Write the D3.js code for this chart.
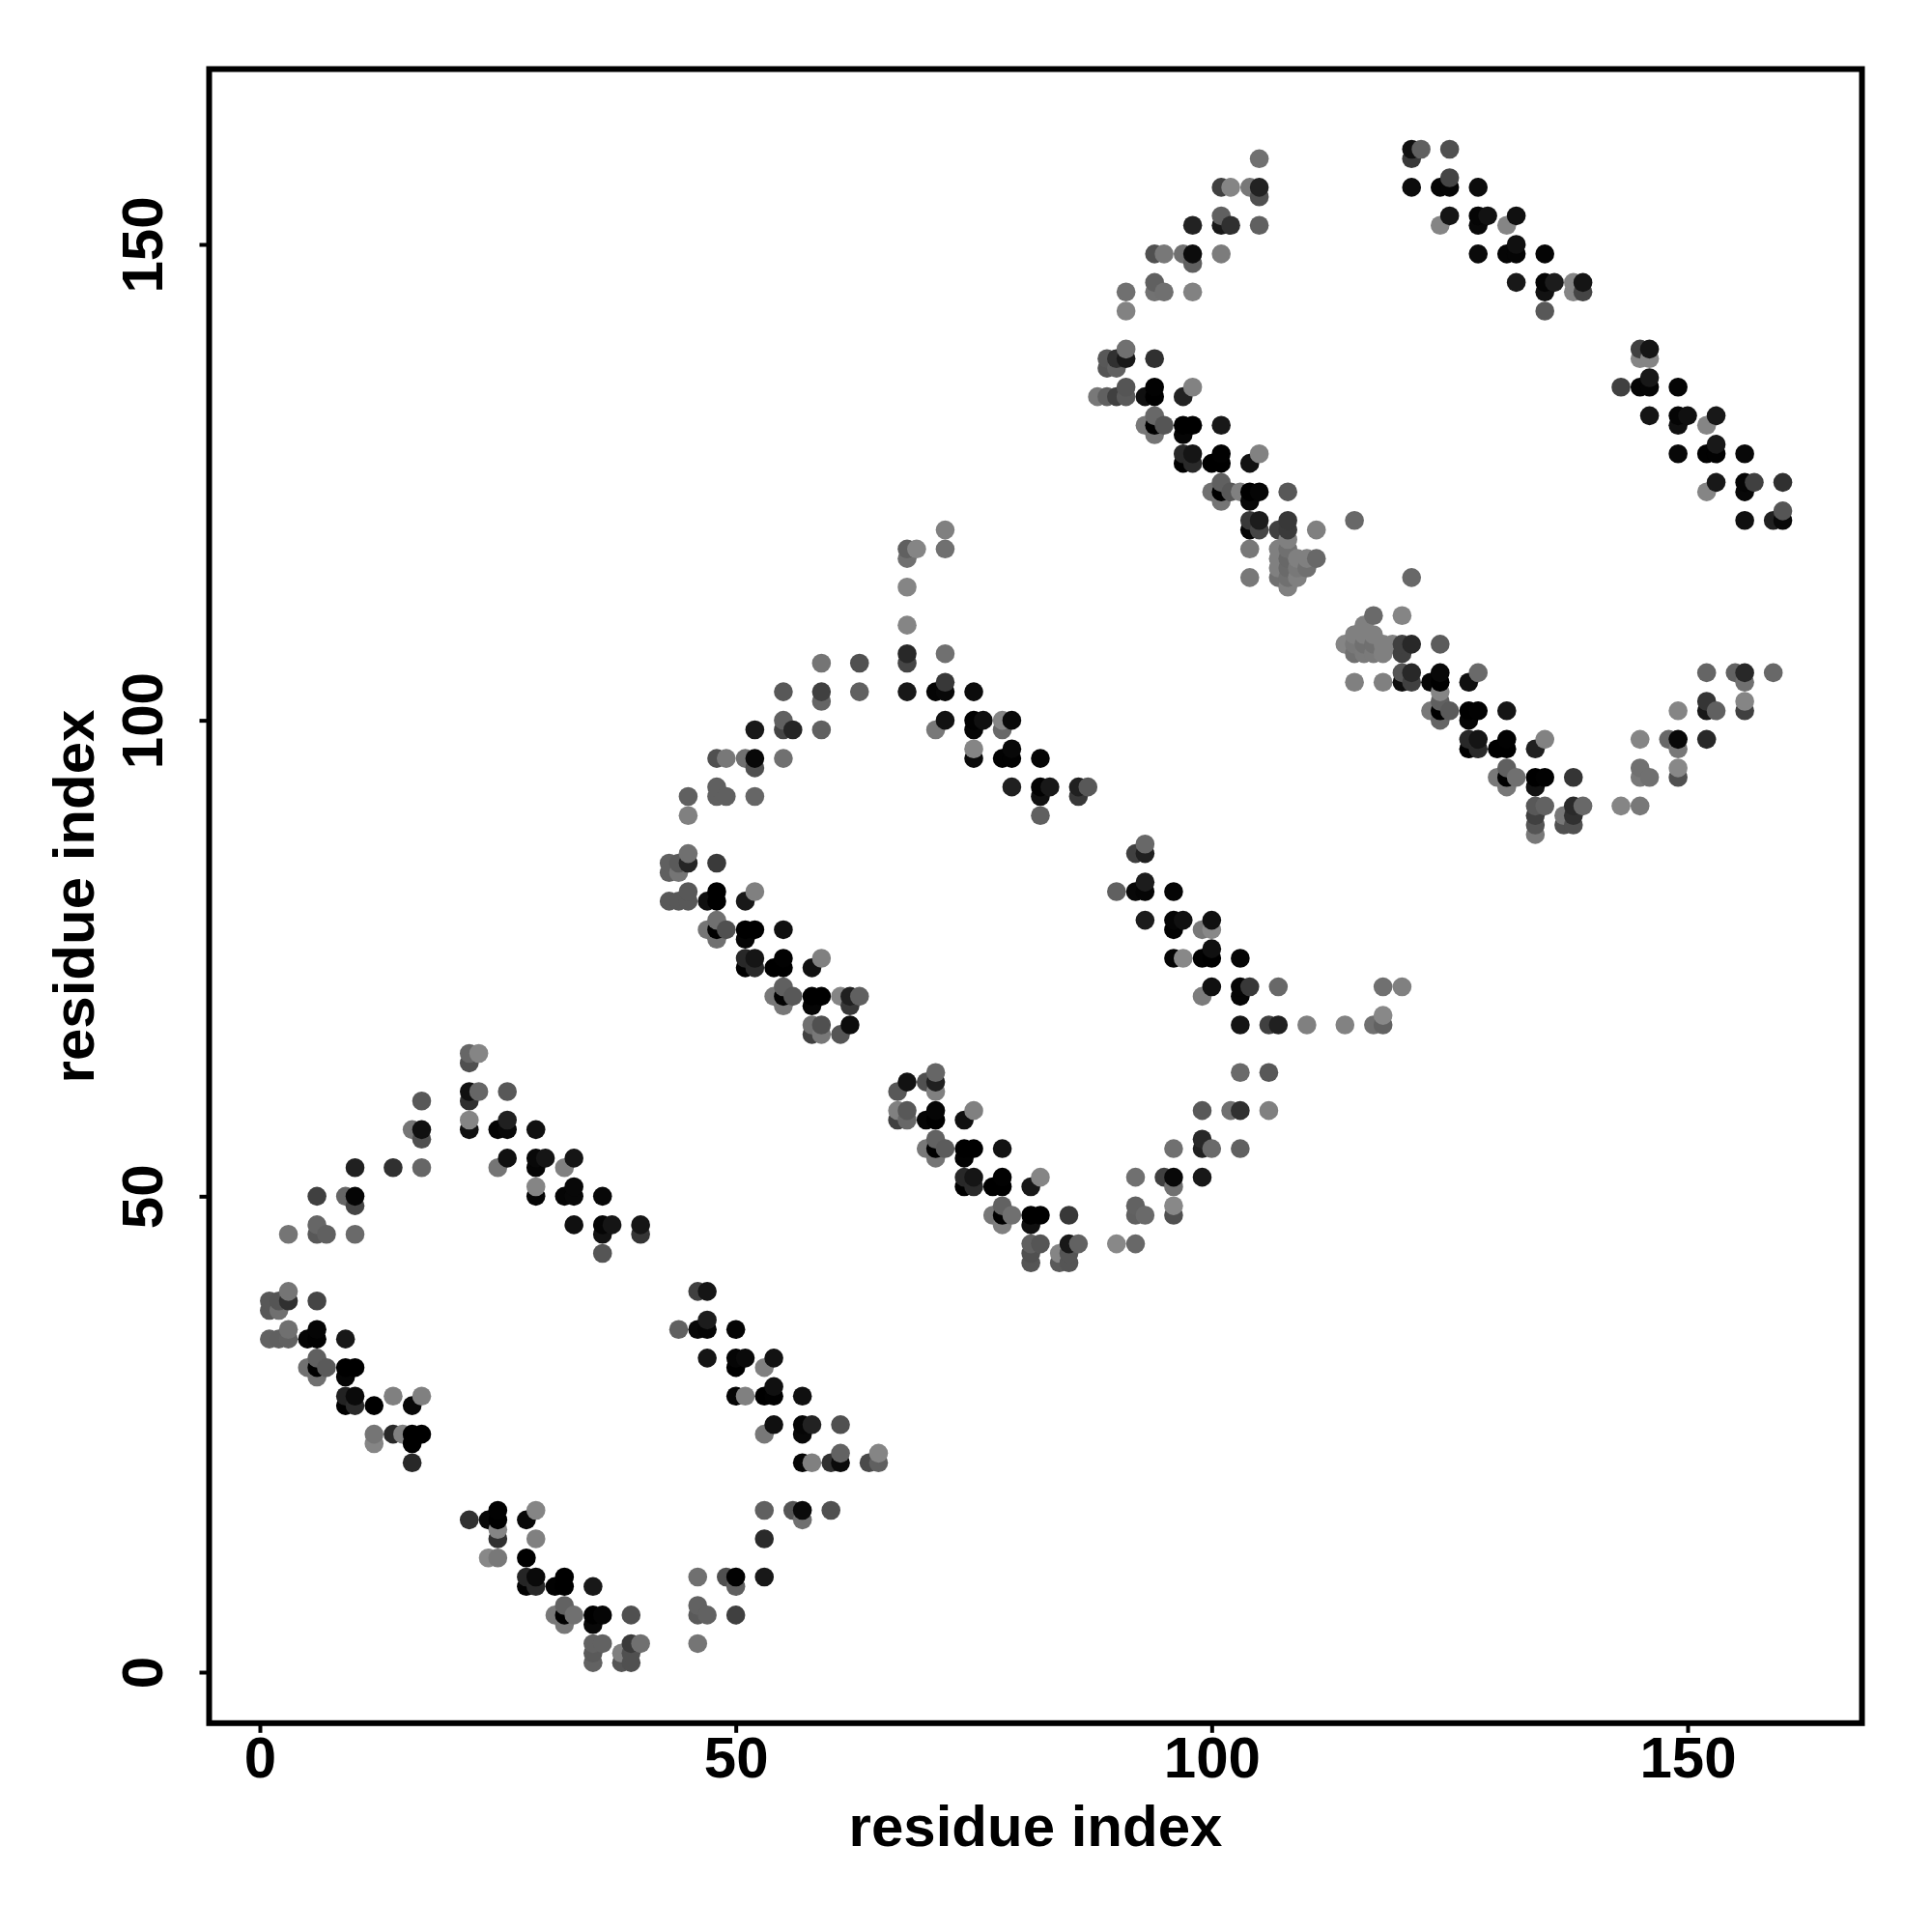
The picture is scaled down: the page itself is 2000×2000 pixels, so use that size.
<!DOCTYPE html>
<html><head><meta charset="utf-8">
<script src="https://cdnjs.cloudflare.com/ajax/libs/d3/7.8.5/d3.min.js"></script>
<style>html,body{margin:0;padding:0;background:#fff}svg{display:block}</style></head>
<body><svg id="c" width="2000" height="2000"></svg>
<script>
const tickValues = [0, 50, 100, 150];
const xTitle = "residue index";
const yTitle = "residue index";
// [residue i, residue j, grey level 0-136]
const block1Lower = [[1,39,0x58],[1,38,0x58],[1,35,0x62],[2,39,0x55],[2,38,0x70],[2,35,0x60],[3,40,0x75],[3,39,0x30],[3,36,0x70],[3,35,0x62],[5,35,0x05],[5,32,0x70],[6,39,0x45],[6,36,0x05],[6,35,0x02],[6,33,0x60],[6,32,0x00],[6,31,0x70],[7,32,0x5a],[9,35,0x18],[9,32,0x00],[9,31,0x05],[9,29,0x22],[9,28,0x00],[10,32,0x00],[10,29,0x0a],[10,28,0x2a],[12,28,0x00],[12,25,0x75],[12,24,0x85],[14,29,0x80],[14,25,0x28],[15,25,0x80],[16,28,0x08],[16,25,0x00],[16,24,0x00],[16,22,0x28],[17,29,0x80],[17,25,0x00]];
const block1Upper = [[3,46,0x75],[6,50,0x40],[6,47,0x66],[6,46,0x58],[7,46,0x60],[9,50,0x66],[10,53,0x20],[10,50,0x05],[10,49,0x45],[10,46,0x6a],[14,53,0x30],[16,57,0x75],[17,60,0x58],[17,57,0x10],[17,56,0x50],[17,53,0x66],[22,65,0x66],[22,64,0x50],[22,61,0x10],[22,60,0x30],[22,58,0x85],[22,57,0x10],[23,65,0x85],[23,61,0x66],[25,57,0x05],[25,53,0x75],[26,61,0x58],[26,58,0x20],[26,57,0x08],[26,54,0x10],[29,57,0x10],[29,54,0x08],[29,53,0x05],[29,51,0x85],[29,50,0x05],[30,54,0x15],[32,53,0x80],[32,50,0x05],[33,54,0x15],[33,51,0x08],[33,50,0x08],[33,47,0x10],[36,50,0x08],[36,47,0x05],[36,46,0x12],[36,44,0x55],[37,47,0x15],[40,47,0x15],[40,46,0x35]];
const block2Lower = [[22,16,0x30],[24,16,0x08],[24,12,0x88],[25,17,0x02],[25,16,0x00],[25,15,0x85],[25,14,0x30],[25,12,0x78],[28,16,0x08],[28,12,0x00],[28,10,0x25],[28,9,0x02],[29,17,0x85],[29,14,0x80],[29,10,0x0a],[29,9,0x28],[31,9,0x02],[31,6,0x78],[32,10,0x00],[32,9,0x00],[32,7,0x62],[32,6,0x00],[32,5,0x78],[33,6,0x70],[35,9,0x18],[35,6,0x00],[35,5,0x08],[35,3,0x62],[35,2,0x5a],[35,1,0x62],[36,6,0x05],[36,3,0x62],[38,2,0x80],[38,1,0x55],[39,6,0x50],[39,3,0x3a],[39,2,0x50],[39,1,0x50],[40,3,0x70]];
const block2Upper = [[46,10,0x70],[46,7,0x62],[46,6,0x5a],[46,3,0x75],[47,6,0x62],[49,10,0x50],[50,10,0x02],[50,9,0x60],[50,6,0x40],[53,17,0x60],[53,14,0x2a],[53,10,0x18],[56,17,0x55],[57,17,0x0a],[57,16,0x70],[60,17,0x50]];
const block3 = [[44,36,0x60],[46,40,0x40],[46,36,0x08],[47,40,0x15],[47,37,0x1c],[47,36,0x05],[47,33,0x15],[50,36,0x05],[50,33,0x05],[50,32,0x00],[50,29,0x05],[51,33,0x0a],[51,29,0x80],[53,32,0x80],[53,29,0x00],[53,25,0x78],[54,33,0x12],[54,30,0x10],[54,29,0x02],[54,26,0x10],[57,29,0x10],[57,26,0x05],[57,25,0x08],[57,22,0x05],[58,26,0x22],[58,22,0x80],[60,22,0x30],[61,26,0x50],[61,23,0x62],[61,22,0x0a],[64,22,0x4a],[65,23,0x85],[65,22,0x60]];
const block4Arm = [[45,92,0x60],[45,90,0x80],[48,96,0x50],[48,93,0x60],[48,92,0x60],[49,96,0x78],[49,92,0x60],[51,96,0x70],[52,99,0x18],[52,96,0x08],[52,95,0x50],[52,92,0x66],[55,103,0x58],[55,100,0x60],[55,99,0x45],[55,96,0x70],[56,99,0x25],[59,106,0x75],[59,103,0x40],[59,102,0x65],[59,99,0x60],[63,106,0x50],[63,103,0x60]];
const block4 = [[43,85,0x60],[43,84,0x60],[43,81,0x58],[44,85,0x5a],[44,84,0x75],[44,81,0x58],[45,86,0x70],[45,85,0x25],[45,82,0x58],[45,81,0x58],[47,81,0x10],[47,78,0x75],[48,85,0x3a],[48,82,0x00],[48,81,0x00],[48,79,0x70],[48,78,0x00],[48,77,0x70],[49,78,0x50],[51,81,0x18],[51,78,0x00],[51,77,0x05],[51,75,0x28],[51,74,0x00],[52,82,0x80],[52,78,0x00],[52,75,0x15],[52,74,0x2a],[54,74,0x00],[54,71,0x78],[55,78,0x10],[55,75,0x02],[55,74,0x00],[55,72,0x60],[55,71,0x02],[55,70,0x78],[56,71,0x58],[58,74,0x10],[58,71,0x00],[58,70,0x05],[58,68,0x70],[58,67,0x40],[59,75,0x80],[59,71,0x00],[59,68,0x50],[59,67,0x78],[61,71,0x85],[61,67,0x55],[62,71,0x20],[62,70,0x38],[62,68,0x0c],[63,71,0x60]];
const block5 = [[67,61,0x58],[67,59,0x80],[67,58,0x40],[68,62,0x12],[68,59,0x58],[68,58,0x68],[70,62,0x50],[70,58,0x05],[70,55,0x78],[71,63,0x66],[71,62,0x20],[71,61,0x80],[71,59,0x05],[71,58,0x00],[71,56,0x62],[71,55,0x00],[71,54,0x75],[72,55,0x5c],[74,58,0x10],[74,55,0x00],[74,54,0x02],[74,52,0x28],[74,51,0x00],[75,59,0x80],[75,55,0x00],[75,52,0x15],[75,51,0x2a],[77,51,0x00],[77,48,0x78],[78,55,0x12],[78,52,0x02],[78,51,0x00],[78,49,0x62],[78,48,0x00],[78,47,0x80],[79,48,0x70],[81,51,0x18],[81,48,0x00],[81,47,0x10],[81,45,0x60],[81,44,0x50],[81,43,0x55],[82,52,0x85],[82,48,0x00],[82,45,0x55],[84,44,0x85],[84,43,0x5a],[85,48,0x38],[85,45,0x18],[85,44,0x55],[85,43,0x55],[86,45,0x62]];
const block5Arm = [[90,45,0x88],[92,52,0x70],[92,49,0x62],[92,48,0x60],[92,45,0x68],[93,48,0x6a],[95,52,0x40],[96,55,0x70],[96,52,0x08],[96,51,0x70],[96,49,0x88],[96,48,0x50],[99,59,0x58],[99,56,0x28],[99,55,0x20],[99,52,0x18],[100,55,0x6a],[102,59,0x70],[103,63,0x6a],[103,59,0x30],[103,55,0x60],[106,63,0x58],[106,59,0x80]];
const block6Top = [[68,118,0x60],[68,117,0x70],[68,114,0x85],[68,110,0x85],[68,107,0x28],[68,106,0x45],[68,103,0x18],[69,118,0x85],[71,103,0x05],[71,99,0x78],[72,120,0x80],[72,118,0x70],[72,107,0x70],[72,104,0x38],[72,103,0x08],[72,100,0x12],[75,103,0x0c],[75,100,0x02],[75,99,0x05],[75,97,0x85],[75,96,0x0a],[76,100,0x10],[78,100,0x85],[78,99,0x68],[78,96,0x02],[79,100,0x0a],[79,97,0x08],[79,96,0x02],[79,93,0x20],[82,96,0x05],[82,93,0x02],[82,92,0x10],[82,90,0x60],[83,93,0x18],[86,93,0x20],[86,92,0x38],[87,93,0x58]];
const block7 = [[90,82,0x60],[92,86,0x40],[92,82,0x08],[93,87,0x68],[93,86,0x20],[93,83,0x1c],[93,82,0x05],[93,79,0x1c],[96,82,0x05],[96,79,0x05],[96,78,0x02],[96,75,0x05],[97,79,0x10],[97,75,0x88],[99,78,0x78],[99,75,0x02],[99,71,0x7c],[100,79,0x10],[100,78,0x88],[100,76,0x10],[100,75,0x00],[100,72,0x10],[103,75,0x05],[103,72,0x05],[103,71,0x05],[103,68,0x15],[104,72,0x38],[106,68,0x40],[107,72,0x68],[107,68,0x20],[110,68,0x80],[114,68,0x82],[117,68,0x70],[118,72,0x70],[118,69,0x88],[118,68,0x62],[120,72,0x80]];
const block8Arm = [[91,145,0x70],[91,143,0x82],[91,139,0x70],[94,149,0x50],[94,146,0x60],[94,145,0x72],[95,149,0x78],[95,145,0x70],[97,149,0x70],[98,152,0x22],[98,149,0x0c],[98,148,0x60],[98,145,0x82],[101,156,0x40],[101,153,0x60],[101,152,0x18],[101,149,0x7c],[102,156,0x85],[102,152,0x30],[104,156,0x78],[105,159,0x70],[105,156,0x22],[105,155,0x50],[105,152,0x60]];
const block8 = [[88,134,0x78],[89,138,0x58],[89,137,0x55],[89,134,0x60],[90,138,0x30],[90,137,0x62],[90,134,0x40],[91,138,0x18],[91,135,0x55],[91,134,0x5a],[93,134,0x10],[93,131,0x78],[94,138,0x30],[94,135,0x02],[94,134,0x00],[94,132,0x68],[94,131,0x00],[94,130,0x75],[95,131,0x55],[97,134,0x22],[97,131,0x00],[97,130,0x05],[97,128,0x28],[97,127,0x00],[98,135,0x82],[98,131,0x00],[98,128,0x15],[98,127,0x2a],[100,127,0x00],[100,124,0x70],[101,131,0x18],[101,128,0x02],[101,127,0x00],[101,125,0x60],[101,124,0x00],[101,123,0x75],[102,124,0x58],[103,124,0x80],[104,127,0x12],[104,124,0x00],[104,123,0x08],[104,121,0x38],[104,120,0x05],[104,118,0x78],[104,115,0x78],[105,128,0x82],[105,124,0x05],[105,121,0x1c],[105,120,0x45],[107,120,0x40],[107,118,0x80],[107,117,0x80],[107,116,0x80],[107,115,0x70],[108,124,0x58],[108,121,0x38],[108,120,0x3a],[108,119,0x80],[108,118,0x70],[108,117,0x68],[108,116,0x6a],[108,115,0x70],[108,114,0x80],[109,117,0x80],[109,116,0x78],[109,115,0x80],[110,117,0x80],[110,116,0x70],[111,120,0x80],[111,117,0x68],[115,121,0x68]];
const block9 = [[114,108,0x85],[115,109,0x80],[115,108,0x78],[115,107,0x70],[115,104,0x80],[116,110,0x80],[116,109,0x80],[116,108,0x70],[116,107,0x7a],[117,111,0x6a],[117,109,0x80],[117,108,0x70],[117,107,0x7a],[118,108,0x80],[118,107,0x80],[118,104,0x80],[119,108,0x80],[120,111,0x85],[120,108,0x40],[120,107,0x40],[120,105,0x55],[120,104,0x0c],[121,115,0x68],[121,108,0x28],[121,105,0x28],[121,104,0x40],[123,104,0x05],[123,101,0x78],[124,108,0x5c],[124,105,0x08],[124,104,0x00],[124,103,0x85],[124,102,0x60],[124,101,0x00],[124,100,0x65],[125,101,0x5a],[127,104,0x10],[127,101,0x00],[127,100,0x05],[127,98,0x28],[127,97,0x00],[128,105,0x6a],[128,101,0x02],[128,98,0x15],[128,97,0x2a],[130,97,0x00],[130,94,0x78],[131,101,0x15],[131,98,0x02],[131,97,0x00],[131,95,0x60],[131,94,0x00],[131,93,0x78],[132,94,0x70],[134,97,0x20],[134,94,0x00],[134,93,0x12],[134,91,0x58],[134,90,0x40],[134,89,0x55],[134,88,0x78],[135,98,0x82],[135,94,0x02],[135,91,0x62],[137,90,0x78],[137,89,0x50],[138,94,0x35],[138,91,0x2a],[138,90,0x30],[138,89,0x50],[139,91,0x68]];
const block9Arm = [[143,91,0x85],[145,98,0x85],[145,95,0x70],[145,94,0x78],[145,91,0x78],[146,94,0x70],[148,98,0x68],[149,101,0x85],[149,98,0x08],[149,97,0x78],[149,95,0x88],[149,94,0x50],[152,105,0x65],[152,102,0x35],[152,101,0x18],[152,98,0x28],[153,101,0x60],[155,105,0x62],[156,105,0x28],[156,104,0x70],[156,102,0x85],[156,101,0x40],[159,105,0x68]];
const block10 = [[121,160,0x10],[121,159,0x38],[121,156,0x0c],[122,160,0x60],[124,156,0x05],[124,152,0x85],[125,160,0x50],[125,157,0x45],[125,156,0x05],[125,153,0x15],[128,156,0x0c],[128,153,0x05],[128,152,0x08],[128,149,0x0a],[129,153,0x12],[131,152,0x85],[131,149,0x05],[132,153,0x10],[132,150,0x10],[132,149,0x05],[132,146,0x18],[135,149,0x05],[135,146,0x05],[135,145,0x12],[135,143,0x58],[136,146,0x1c],[138,146,0x85],[138,145,0x85],[139,146,0x15],[139,145,0x45]];
const block11 = [[143,135,0x40],[145,139,0x40],[145,138,0x85],[145,135,0x05],[146,139,0x15],[146,138,0x85],[146,136,0x18],[146,135,0x05],[146,132,0x15],[149,135,0x05],[149,132,0x05],[149,131,0x10],[149,128,0x08],[150,132,0x10],[152,131,0x85],[152,128,0x02],[152,124,0x85],[153,132,0x18],[153,129,0x18],[153,128,0x02],[153,125,0x18],[156,128,0x08],[156,125,0x05],[156,124,0x08],[156,121,0x10],[157,125,0x40],[159,121,0x20],[160,125,0x30],[160,122,0x55],[160,121,0x08]];

const contacts = d3.sort(
  [block1Lower, block1Upper, block2Lower, block2Upper, block3, block4Arm, block4, block5, block5Arm, block6Top, block7, block8Arm, block8, block9, block9Arm, block10, block11].flat(),
  d => d[0], d => d[1]);

const svg = d3.select("#c");
const x = d3.scaleLinear().domain([0, 150]).range([269, 1747]);
const y = d3.scaleLinear().domain([0, 150]).range([1731, 253]);
const frame = {l: 216.5, r: 1927.5, t: 71.5, b: 1783.8};
const grey = d3.scaleLinear().domain([0, 255]).range(["#000", "#fff"]);
const font = "'Liberation Sans', Arial, sans-serif";

svg.append("g").selectAll("circle").data(contacts).join("circle")
  .attr("cx", d => x(d[0])).attr("cy", d => y(d[1])).attr("r", 9.8)
  .attr("fill", d => grey(d[2]));

svg.append("rect").attr("x", frame.l).attr("y", frame.t)
  .attr("width", frame.r - frame.l).attr("height", frame.b - frame.t)
  .attr("fill", "none").attr("stroke", "#000").attr("stroke-width", 6);

const xa = svg.append("g").attr("transform", `translate(0,${frame.b})`)
  .call(d3.axisBottom(x).tickValues(tickValues).tickSize(10).tickFormat(d3.format("d")));
const ya = svg.append("g").attr("transform", `translate(${frame.l},0)`)
  .call(d3.axisLeft(y).tickValues(tickValues).tickSize(10).tickFormat(d3.format("d")));
[xa, ya].forEach(a => {
  a.select(".domain").remove();
  a.selectAll(".tick line").attr("stroke", "#000").attr("stroke-width", 4);
  a.selectAll(".tick text").attr("fill", "#000")
    .style("font-family", font).style("font-weight", "bold").style("font-size", "60px");
});
xa.selectAll(".tick text").attr("dy", null)
  .attr("y", 1840 - frame.b).attr("text-anchor", "middle");
ya.selectAll(".tick text").attr("x", null).attr("dy", null)
  .attr("y", 0).attr("text-anchor", "middle")
  .attr("transform", `translate(${168 - frame.l},0) rotate(-90)`);

svg.append("text").attr("x", 1072).attr("y", 1911).attr("text-anchor", "middle")
  .style("font-family", font).style("font-weight", "bold").style("font-size", "60px").text(xTitle);
svg.append("text").attr("text-anchor", "middle")
  .attr("transform", "translate(97,928) rotate(-90)")
  .style("font-family", font).style("font-weight", "bold").style("font-size", "60px").text(yTitle);
</script></body></html>
